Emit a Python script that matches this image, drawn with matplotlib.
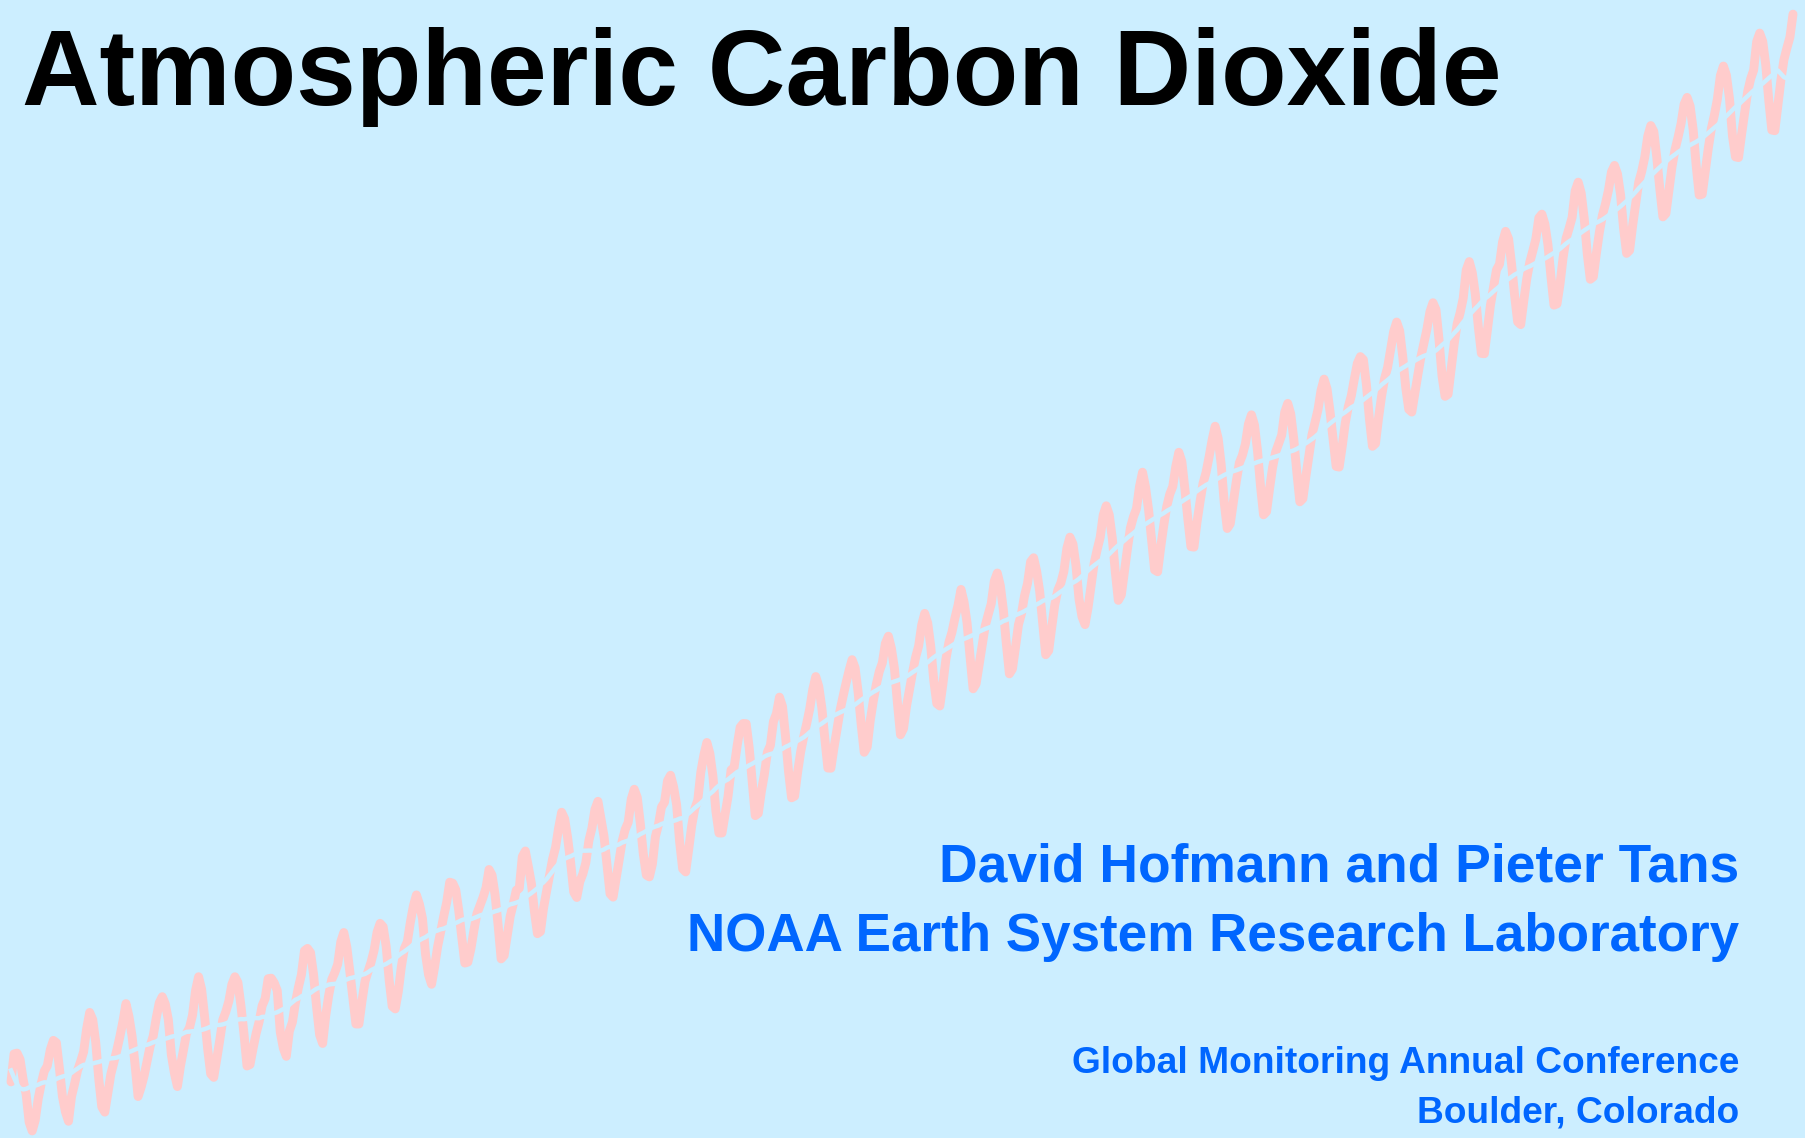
import matplotlib.pyplot as plt
import numpy as np
import pandas as pd

# Monthly CO2 (ppm), March 1958 -> April 2007
start_year, start_month = 1958, 3
co2_monthly = [
    315.71, 317.45, 317.50, 317.10, 315.86, 314.93, 313.20, 312.66, 313.33, 314.67,
    315.62, 316.38, 316.71, 317.72, 318.29, 318.15, 316.54, 314.80, 313.84, 313.26, 314.80, 315.58,
    316.43, 316.97, 317.58, 319.02, 320.03, 319.59, 318.18, 315.91, 314.16, 313.83, 315.00, 316.19,
    316.93, 317.70, 318.54, 319.48, 320.58, 319.77, 318.57, 316.79, 314.80, 315.38, 316.10, 317.01,
    317.94, 318.56, 319.68, 320.63, 321.01, 320.55, 319.58, 317.40, 316.26, 315.42, 316.69, 317.69,
    318.74, 319.08, 319.86, 321.39, 322.25, 321.47, 319.74, 317.77, 316.21, 315.99, 317.12, 318.31,
    319.57, 320.07, 320.73, 321.77, 322.25, 321.89, 320.44, 318.70, 316.70, 316.79, 317.79, 318.71,
    319.44, 320.44, 320.89, 322.13, 322.16, 321.87, 321.39, 318.81, 317.81, 317.30, 318.87, 319.42,
    320.62, 321.59, 322.39, 323.87, 324.01, 323.75, 322.39, 320.37, 318.64, 318.10, 319.79, 321.08,
    322.07, 322.50, 323.04, 324.42, 325.00, 324.09, 322.55, 320.92, 319.31, 319.31, 320.72, 321.96,
    322.57, 323.15, 323.89, 325.02, 325.57, 325.36, 324.14, 322.03, 320.41, 320.25, 321.31, 322.84,
    324.00, 324.42, 325.64, 326.66, 327.34, 326.76, 325.88, 323.67, 322.38, 321.78, 322.85, 324.11,
    325.03, 325.99, 326.87, 328.13, 328.07, 327.66, 326.35, 324.69, 323.10, 323.16, 323.98, 325.13,
    326.17, 326.68, 327.18, 327.78, 328.92, 328.57, 327.34, 325.46, 323.36, 323.57, 324.80, 326.01,
    326.77, 327.63, 327.75, 329.72, 330.07, 329.09, 328.05, 326.32, 324.93, 325.06, 326.50, 327.55,
    328.54, 329.56, 330.30, 331.50, 332.48, 332.07, 330.87, 329.31, 327.51, 327.18, 328.16, 328.64,
    329.35, 330.71, 331.48, 332.65, 333.16, 332.06, 330.99, 329.17, 327.41, 327.20, 328.33, 329.50,
    330.68, 331.41, 331.85, 333.29, 333.91, 333.40, 331.78, 329.88, 328.57, 328.46, 329.26, 330.97,
    331.71, 332.80, 333.10, 334.44, 334.78, 334.06, 332.95, 330.64, 328.96, 328.77, 330.18, 331.65,
    332.69, 333.23, 334.97, 336.03, 336.82, 336.13, 334.73, 332.52, 331.19, 331.19, 332.35, 333.47,
    335.11, 335.26, 336.60, 337.77, 338.00, 337.99, 336.48, 334.37, 332.27, 332.41, 333.76, 334.83,
    336.21, 336.64, 338.12, 338.62, 339.64, 339.06, 337.21, 335.00, 333.38, 333.48, 334.97, 336.23,
    337.17, 338.00, 338.91, 340.11, 340.92, 340.30, 338.98, 337.05, 335.23, 335.22, 336.48, 337.61,
    338.79, 339.67, 340.51, 341.29, 341.97, 341.46, 339.94, 337.96, 336.21, 336.54, 338.18, 339.38,
    340.42, 341.24, 341.77, 342.98, 343.43, 342.67, 341.42, 339.25, 337.30, 337.68, 339.08, 340.12,
    341.19, 342.12, 342.82, 344.12, 344.85, 344.25, 342.80, 340.68, 339.24, 339.09, 340.43, 341.98,
    343.04, 343.67, 344.56, 345.34, 346.34, 345.56, 344.26, 342.13, 340.16, 340.47, 341.66, 342.86,
    344.06, 344.78, 345.45, 346.85, 347.36, 346.58, 345.07, 342.93, 341.09, 341.39, 342.73, 344.15,
    344.84, 345.95, 346.72, 348.06, 348.31, 347.48, 346.23, 344.26, 342.28, 342.54, 343.99, 345.38,
    346.29, 346.74, 347.46, 348.90, 349.59, 349.17, 347.84, 345.75, 344.64, 344.15, 345.21, 346.59,
    347.95, 348.81, 349.57, 350.96, 351.54, 350.98, 349.54, 347.44, 345.66, 346.00, 347.43, 348.85,
    350.17, 350.86, 351.36, 352.74, 353.63, 352.70, 351.29, 349.43, 347.55, 347.44, 348.95, 350.30,
    351.49, 352.26, 352.74, 353.99, 354.87, 354.29, 352.59, 350.69, 349.00, 348.97, 350.51, 351.78,
    352.93, 353.62, 354.58, 355.63, 356.49, 355.73, 354.11, 351.76, 350.13, 350.42, 351.73, 353.06,
    354.21, 354.68, 355.39, 356.62, 357.20, 356.57, 354.98, 352.77, 350.98, 351.18, 352.62, 353.94,
    354.88, 355.42, 355.94, 357.36, 357.91, 357.25, 355.68, 353.64, 351.79, 351.98, 353.37, 354.65,
    355.95, 356.72, 357.52, 358.72, 359.42, 358.81, 357.36, 355.65, 353.99, 353.95, 355.23, 356.67,
    357.69, 358.38, 359.42, 360.40, 360.82, 360.63, 359.09, 356.93, 355.24, 355.41, 356.98, 358.34,
    359.45, 360.14, 361.26, 362.37, 362.97, 362.42, 360.84, 358.90, 357.54, 357.37, 358.53, 359.68,
    360.78, 361.65, 362.52, 363.61, 364.17, 363.74, 361.88, 359.62, 358.35, 358.48, 360.01, 361.59,
    362.86, 363.56, 364.45, 366.21, 366.73, 366.04, 364.70, 362.66, 361.02, 361.00, 362.48, 364.02,
    365.11, 366.22, 366.57, 367.95, 368.61, 368.14, 366.54, 364.60, 362.98, 362.81, 364.27, 365.66,
    366.69, 367.39, 368.13, 369.45, 369.68, 369.06, 367.79, 365.79, 364.02, 364.10, 365.34, 366.96,
    368.17, 368.80, 369.48, 371.12, 371.67, 370.99, 369.41, 367.21, 365.63, 365.78, 367.22, 368.55,
    369.60, 370.31, 371.16, 372.31, 372.71, 372.18, 370.90, 368.81, 367.24, 367.43, 368.97, 370.31,
    371.66, 372.34, 373.22, 374.53, 375.19, 374.82, 373.17, 371.22, 369.51, 369.72, 371.18, 372.61,
    373.68, 374.45, 375.30, 376.51, 376.94, 376.40, 374.94, 372.71, 370.87, 370.92, 372.37, 373.77,
    374.99, 375.83, 376.83, 378.30, 378.89, 378.32, 376.88, 374.54, 373.24, 373.20, 374.63, 375.95,
    377.28, 378.09, 378.64, 380.41, 380.94, 380.42, 378.96, 376.75, 374.91, 374.87, 376.43, 378.01,
    379.28, 380.02, 380.70, 382.12,
]

title = 'Atmospheric Carbon Dioxide'
authors = ['David Hofmann and Pieter Tans', 'NOAA Earth System Research Laboratory']
venue = ['Global Monitoring Annual Conference', 'Boulder, Colorado']

bg = '#cceeff'
red = '#ffcccc'
blue = '#0066ff'

plt.rcParams['font.family'] = ['Liberation Sans', 'DejaVu Sans']

W, H = 1806, 1138
fig = plt.figure(figsize=(W / 100, H / 100), dpi=100, facecolor=bg)
ax = fig.add_axes([0, 0, 1, 1])
ax.set_facecolor(bg)
ax.axis('off')

idx = pd.period_range(f'{start_year}-{start_month:02d}', periods=len(co2_monthly), freq='M')
co2 = pd.Series(co2_monthly, index=idx)
t = idx.year + (idx.month - 0.5) / 12
# de-seasonalised trend, drawn in background colour so it cuts through the curve
trend = co2.rolling(12, center=True, min_periods=1).mean()

ax.plot(t, co2.values, color=red, lw=6.4, solid_capstyle='round', solid_joinstyle='round', zorder=2)
ax.plot(t, trend.values, color=bg, lw=3.2, zorder=3)

ax.set_xlim(1957.905, 2007.65)
ax.set_ylim(312.22, 383.0)


def px(x, y):
    return x / W, 1 - y / H


fig.text(*px(22, 105), title, fontsize=77.3, fontweight='bold', color='black',
         ha='left', va='baseline')
fig.text(*px(1739, 881), authors[0], fontsize=38.4, fontweight='bold', color=blue,
         ha='right', va='baseline')
fig.text(*px(1739, 951), authors[1], fontsize=38.2, fontweight='bold', color=blue,
         ha='right', va='baseline')
fig.text(*px(1739, 1073), venue[0], fontsize=26.7, fontweight='bold', color=blue,
         ha='right', va='baseline')
fig.text(*px(1739, 1123), venue[1], fontsize=26.7, fontweight='bold', color=blue,
         ha='right', va='baseline')

fig.savefig('out.png', dpi=100, facecolor=bg)
